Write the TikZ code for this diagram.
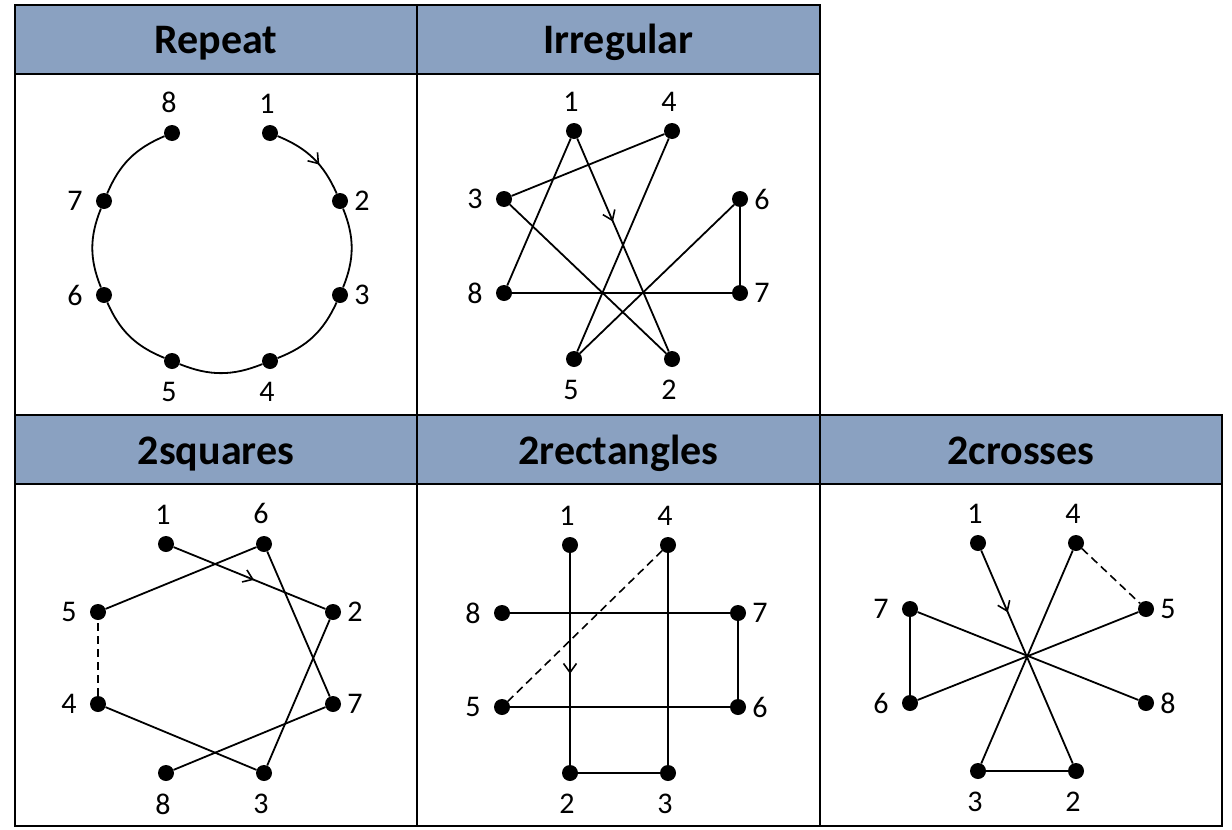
\documentclass[tikz,border=0pt]{standalone}
\usepackage{fontspec}
\setmainfont{Carlito}
\usetikzlibrary{arrows.meta,decorations.markings}
\definecolor{hdr}{RGB}{138,161,193}
\tikzset{
  x=1pt, y=-1pt,
  grid/.style={draw=black, line width=1.6pt},
  hdrcell/.style={fill=hdr, draw=black, line width=1.6pt},
  htitle/.style={anchor=base, font=\fontsize{42}{42}\selectfont\bfseries, inner sep=0pt},
  dot/.style={circle, fill=black, inner sep=0pt, minimum size=16pt},
  lbl/.style={font=\fontsize{30}{30}\selectfont, inner sep=0pt},
  la/.style={label={[lbl, label distance=11.5pt, xshift=-3pt]above:#1}},
  lb/.style={label={[lbl, label distance=13pt, xshift=-3pt]below:#1}},
  ll/.style={label={[lbl, label distance=13pt]left:#1}},
  lr/.style={label={[lbl, label distance=6pt]right:#1}},
  edge/.style={line width=1.8pt},
  dsh/.style={line width=1.6pt, dash pattern=on 8pt off 5pt},
  midarrow/.style={postaction={decorate}, decoration={markings,
    mark=at position #1 with {\arrow{Straight Barb[length=9pt,width=13pt,line width=1.6pt]}}}}
}
\begin{document}
\begin{tikzpicture}
\useasboundingbox (0,0) rectangle (1232,830);
% table
\fill[white] (0,0) rectangle (1232,830);
\path[hdrcell] (15,5) rectangle (417,74);
\path[hdrcell] (417,5) rectangle (820,74);
\path[grid] (15,74) rectangle (417,415);
\path[grid] (417,74) rectangle (820,415);
\path[hdrcell] (15,415) rectangle (417,484);
\path[hdrcell] (417,415) rectangle (820,484);
\path[hdrcell] (820,415) rectangle (1222,484);
\path[grid] (15,484) rectangle (417,826);
\path[grid] (417,484) rectangle (820,826);
\path[grid] (820,484) rectangle (1222,826);
\node[htitle] (t1) at (216,53.5) {Repeat};
\node[htitle] (t2) at (618.5,53.5) {Irregular};
\node[htitle] (t3) at (216,464) {2squares};
\node[htitle] (t4) at (618.5,464) {2rectangles};
\node[htitle] (t5) at (1021,464) {2crosses};

% Repeat
\node[dot,la=8] (r8) at (172,133) {};
\node[dot,la=1] (r1) at (270,133) {};
\node[dot,ll=7] (r7) at (104,201) {};
\node[dot,lr=2] (r2) at (340,201) {};
\node[dot,ll=6] (r6) at (104,295) {};
\node[dot,lr=3] (r3) at (340,295) {};
\node[dot,lb=5] (r5) at (172,361) {};
\node[dot,lb=4] (r4) at (270,361) {};
\draw[edge,midarrow=0.6] (r1) to[bend left=22] (r2);
\draw[edge] (r2) to[bend left=22] (r3);
\draw[edge] (r3) to[bend left=22] (r4);
\draw[edge] (r4) to[bend left=22] (r5);
\draw[edge] (r5) to[bend left=22] (r6);
\draw[edge] (r6) to[bend left=22] (r7);
\draw[edge] (r7) to[bend left=22] (r8);

% Irregular
\node[dot,la=1] (i1) at (574,131) {};
\node[dot,la=4] (i4) at (672,131) {};
\node[dot,ll=3] (i3) at (504,199) {};
\node[dot,lr=6] (i6) at (740,199) {};
\node[dot,ll=8] (i8) at (504,293) {};
\node[dot,lr=7] (i7) at (740,293) {};
\node[dot,lb=5] (i5) at (574,359) {};
\node[dot,lb=2] (i2) at (672,359) {};
\draw[edge,midarrow=0.39] (i1) -- (i2);
\draw[edge] (i2) -- (i3);
\draw[edge] (i3) -- (i4);
\draw[edge] (i4) -- (i5);
\draw[edge] (i5) -- (i6);
\draw[edge] (i6) -- (i7);
\draw[edge] (i7) -- (i8);
\draw[edge] (i8) -- (i1);

% 2squares
\node[dot,la=1] (s1) at (166,544) {};
\node[dot,la=6] (s6) at (264,544) {};
\node[dot,ll=5] (s5) at (98,612) {};
\node[dot,lr=2] (s2) at (333,612) {};
\node[dot,ll=4] (s4) at (98,704) {};
\node[dot,lr=7] (s7) at (333,704) {};
\node[dot,lb=8] (s8) at (166,773) {};
\node[dot,lb=3] (s3) at (264,773) {};
\draw[edge,midarrow=0.53] (s1) -- (s2);
\draw[edge] (s2) -- (s3);
\draw[edge] (s3) -- (s4);
\draw[dsh] (s4) -- (s5);
\draw[edge] (s5) -- (s6);
\draw[edge] (s6) -- (s7);
\draw[edge] (s7) -- (s8);

% 2rectangles
\node[dot,la=1] (q1) at (570,545) {};
\node[dot,la=4] (q4) at (668,545) {};
\node[dot,ll=8] (q8) at (502,613) {};
\node[dot,lr=7] (q7) at (738,613) {};
\node[dot,ll=5] (q5) at (502,707) {};
\node[dot,lr=6] (q6) at (738,707) {};
\node[dot,lb=2] (q2) at (570,773) {};
\node[dot,lb=3] (q3) at (668,773) {};
\draw[edge,midarrow=0.57] (q1) -- (q2);
\draw[edge] (q2) -- (q3);
\draw[edge] (q3) -- (q4);
\draw[dsh] (q4) -- (q5);
\draw[edge] (q5) -- (q6);
\draw[edge] (q6) -- (q7);
\draw[edge] (q7) -- (q8);

% 2crosses
\node[dot,la=1] (c1) at (978,543) {};
\node[dot,la=4] (c4) at (1076,543) {};
\node[dot,ll=7] (c7) at (910,609) {};
\node[dot,lr=5] (c5) at (1146,609) {};
\node[dot,ll=6] (c6) at (910,703) {};
\node[dot,lr=8] (c8) at (1146,703) {};
\node[dot,lb=3] (c3) at (978,771) {};
\node[dot,lb=2] (c2) at (1076,771) {};
\draw[edge,midarrow=0.29] (c1) -- (c2);
\draw[edge] (c2) -- (c3);
\draw[edge] (c3) -- (c4);
\draw[dsh] (c4) -- (c5);
\draw[edge] (c5) -- (c6);
\draw[edge] (c6) -- (c7);
\draw[edge] (c7) -- (c8);
\end{tikzpicture}
\end{document}
